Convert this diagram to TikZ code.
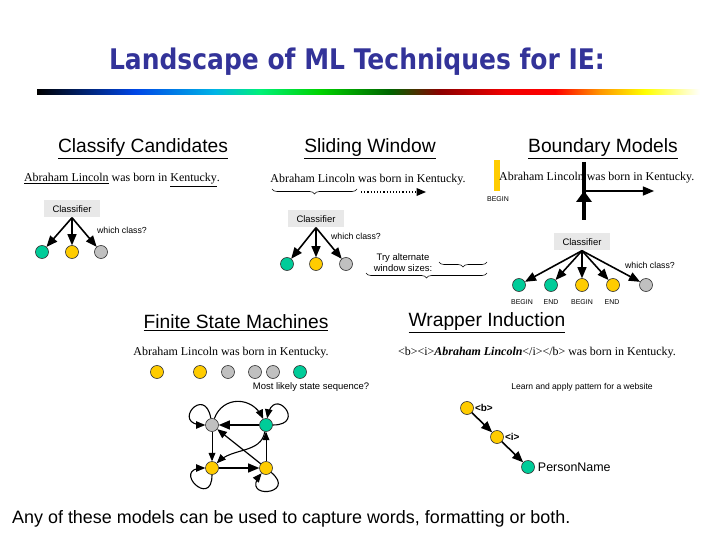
\documentclass[tikz,border=0pt]{standalone}
\usepackage{fontspec}
\setmainfont{Liberation Serif}
\setsansfont{Liberation Sans}
\newfontfamily\titlefont[FakeStretch=0.88]{DejaVu Sans}
\usetikzlibrary{arrows, positioning, calc, decorations.pathreplacing}

\definecolor{titleblue}{RGB}{51,51,153}
\definecolor{stgreen}{RGB}{0,204,153}
\definecolor{styellow}{RGB}{255,204,0}
\definecolor{stgray}{RGB}{192,192,192}
\definecolor{boxgray}{RGB}{232,232,232}

\begin{document}
\begin{tikzpicture}[x=1bp,y=-1bp,
  head/.style={font=\sffamily\fontsize{19.3}{21}\selectfont, inner sep=1pt},
  sent/.style={font=\fontsize{12}{14}\selectfont, inner sep=1pt},
  clsbox/.style={fill=boxgray, minimum width=56bp, minimum height=17bp, inner sep=0pt, font=\sffamily\fontsize{9.5}{11}\selectfont},
  smalltxt/.style={font=\sffamily\fontsize{8.8}{9.5}\selectfont, inner sep=0pt, align=center},
  tagtxt/.style={font=\sffamily\fontsize{7}{8}\selectfont, inner sep=0pt},
  st/.style={circle, draw=black!80, line width=0.6pt, minimum size=13bp, inner sep=0pt},
  sg/.style={st, fill=stgreen}, sy/.style={st, fill=styellow}, sa/.style={st, fill=stgray},
  arr/.style={-triangle 45, line width=1.6pt},
  thinarr/.style={-triangle 45, line width=0.9pt},
  curvy/.style={-triangle 45, line width=1.1pt},
  brc/.style={decorate, decoration={brace, mirror, amplitude=5bp}, line width=0.6pt}]

\useasboundingbox (0,0) rectangle (720,540);
\fill[white] (0,0) rectangle (720,540);

% title and colour bar
\node[font=\titlefont\bfseries\fontsize{28.5}{32}\selectfont, text=titleblue] (title) at (357,62) {Landscape of ML Techniques for IE:};
\shade[left color=black, right color={rgb,255:red,0;green,70;blue,230}] (37,90) rectangle (135,95);
\shade[left color={rgb,255:red,0;green,70;blue,230}, right color={rgb,255:red,0;green,180;blue,230}] (135,90) rectangle (215,95);
\shade[left color={rgb,255:red,0;green,180;blue,230}, right color={rgb,255:red,0;green,240;blue,120}] (215,90) rectangle (260,95);
\shade[left color={rgb,255:red,0;green,240;blue,120}, right color={rgb,255:red,0;green,210;blue,0}] (260,90) rectangle (320,95);
\shade[left color={rgb,255:red,0;green,210;blue,0}, right color={rgb,255:red,0;green,100;blue,0}] (320,90) rectangle (390,95);
\shade[left color={rgb,255:red,0;green,100;blue,0}, right color={rgb,255:red,140;green,0;blue,0}] (390,90) rectangle (440,95);
\shade[left color={rgb,255:red,140;green,0;blue,0}, right color={rgb,255:red,240;green,0;blue,0}] (440,90) rectangle (505,95);
\shade[left color={rgb,255:red,240;green,0;blue,0}, right color={rgb,255:red,255;green,0;blue,0}] (505,90) rectangle (555,95);
\shade[left color={rgb,255:red,255;green,0;blue,0}, right color={rgb,255:red,255;green,150;blue,0}] (555,90) rectangle (600,95);
\shade[left color={rgb,255:red,255;green,150;blue,0}, right color={rgb,255:red,255;green,255;blue,0}] (600,90) rectangle (645,95);
\shade[left color={rgb,255:red,255;green,255;blue,0}, right color=white] (645,90) rectangle (700,95);

% classify candidates
\node[head] (hcls) at (143,149) {\underline{Classify Candidates}};
\node[sent] (scls) at (122,180) {\underline{Abraham Lincoln} was born in \underline{Kentucky}.};
\node[clsbox] (cls1) at (72,209) {Classifier};
\node[sg] (c1) at (42,252) {};
\node[sy] (c2) at (72,252) {};
\node[sa] (c3) at (101,252) {};
\draw[arr] (cls1.south) -- (c1);
\draw[arr] (cls1.south) -- (c2);
\draw[arr] (cls1.south) -- (c3);
\node[smalltxt] (q1) at (122,230) {which class?};

% sliding window
\node[head] (hsw) at (370,149) {\underline{Sliding Window}};
\node[sent] (ssw) at (368,180) {Abraham Lincoln was born in Kentucky.};
\coordinate (wa) at (272,189);
\coordinate (wb) at (357,189);
\draw[brc] (wa) -- (wb);
\coordinate (da) at (361,192);
\coordinate (db) at (426,192);
\draw[dotted, line width=1.2pt, -triangle 45] (da) -- (db);
\node[clsbox] (cls2) at (316,219) {Classifier};
\node[sg] (s1) at (287,264) {};
\node[sy] (s2) at (316,264) {};
\node[sa] (s3) at (346,264) {};
\draw[arr] (cls2.south) -- (s1);
\draw[arr] (cls2.south) -- (s2);
\draw[arr] (cls2.south) -- (s3);
\node[smalltxt] (q2) at (356,236) {which class?};
\node[smalltxt, font=\sffamily\fontsize{9.5}{10}\selectfont] (alt) at (403,263) {Try alternate\\[1bp]window sizes:};
\coordinate (ba) at (439,262);
\coordinate (bb) at (487,262);
\draw[brc] (ba) -- (bb);
\coordinate (bc) at (366,273);
\coordinate (bd) at (487,273);
\draw[brc] (bc) -- (bd);

% boundary models
\node[head] (hbm) at (603,149) {\underline{Boundary Models}};
\fill[styellow] (494,160) rectangle (500,191);
\node[sent, anchor=west, inner sep=0pt] (sbm) at (499,178) {Abraham Lincoln was born in Kentucky.};
\node[tagtxt] (bgn) at (498,199) {BEGIN};
\coordinate (bartop) at (584,162);
\coordinate (barbot) at (584,220);
\draw[line width=4.5bp] (bartop) -- (barbot);
\fill (576,202) -- (592,202) -- (584,191) -- cycle;
\coordinate (ha) at (586,191);
\coordinate (hb) at (654,191);
\draw[arr] (ha) -- (hb);
\node[clsbox] (cls3) at (582,242) {Classifier};
\node[sg] (b1) at (519,285) {};
\node[sg] (b2) at (551,285) {};
\node[sy] (b3) at (582,285) {};
\node[sy] (b4) at (613,285) {};
\node[sa] (b5) at (646,285) {};
\foreach \n in {b1,b2,b3,b4,b5}
  \draw[arr] (cls3.south) -- (\n);
\node[smalltxt] (q3) at (650,265) {which class?};
\node[tagtxt] (l1) at (522,302) {BEGIN};
\node[tagtxt] (l2) at (551,302) {END};
\node[tagtxt] (l3) at (582,302) {BEGIN};
\node[tagtxt] (l4) at (612,302) {END};

% finite state machines
\node[head] (hfsm) at (236,323) {\underline{Finite State Machines}};
\node[sent] (sfsm) at (231,353) {Abraham Lincoln was born in Kentucky.};
\node[sy] (f1) at (157,372) {};
\node[sy] (f2) at (200,372) {};
\node[sa] (f3) at (228,372) {};
\node[sa] (f4) at (255,372) {};
\node[sa] (f5) at (273,372) {};
\node[sg] (f6) at (300,372) {};
\node[smalltxt, font=\sffamily\fontsize{9.5}{10}\selectfont] (mls) at (311,387) {Most likely state sequence?};
\node[sa] (fs) at (212,425) {};
\node[sg] (fg) at (266,425) {};
\node[sy] (fyl) at (212,468) {};
\node[sy] (fyr) at (266,468) {};
\draw[arr] (fg) -- (fs);
\draw[arr] (fyl) -- (fyr);
\draw[thinarr] (fs) -- (fyl);
\draw[thinarr] (fyr) -- (fg);
\draw[arr, line width=1.2pt] (fyr) -- (fs);
\draw[curvy] (fg) to[out=-100, in=45] (fyl);
\draw[curvy] (fs) to[out=70, in=115, looseness=1.3] (fg);
\draw[curvy] (fs) to[loop, out=100, in=180, min distance=35bp] (fs);
\draw[curvy] (fg) to[loop, out=0, in=80, min distance=35bp] (fg);
\draw[curvy] (fyl) to[loop, out=-90, in=180, min distance=35bp] (fyl);
\draw[curvy] (fyr) to[loop, out=-40, in=-130, min distance=35bp] (fyr);

% wrapper induction
\node[head] (hwi) at (487,323) {\underline{Wrapper Induction}};
\node[sent] (swi) at (537,353) {<b><i>\textbf{\textit{Abraham Lincoln}}</i></b> was born in Kentucky.};
\node[smalltxt, font=\sffamily\fontsize{8.6}{9}\selectfont] (lrn) at (582,387) {Learn and apply pattern for a website};
\node[sy, label={[font=\sffamily\bfseries\fontsize{10}{11}\selectfont, inner sep=1pt]right:<b>}] (w1) at (467,408) {};
\node[sy, label={[font=\sffamily\bfseries\fontsize{10}{11}\selectfont, inner sep=1pt]right:<i>}] (w2) at (497,437) {};
\node[sg, label={[font=\sffamily\fontsize{12.5}{13}\selectfont, inner sep=3pt]right:PersonName}] (w3) at (528,467) {};
\draw[arr] (w1) -- (w2);
\draw[arr] (w2) -- (w3);

\node[anchor=west, font=\sffamily\fontsize{18}{21}\selectfont, inner sep=0pt] (foot) at (12,519) {Any of these models can be used to capture words, formatting or both.};

\end{tikzpicture}
\end{document}
